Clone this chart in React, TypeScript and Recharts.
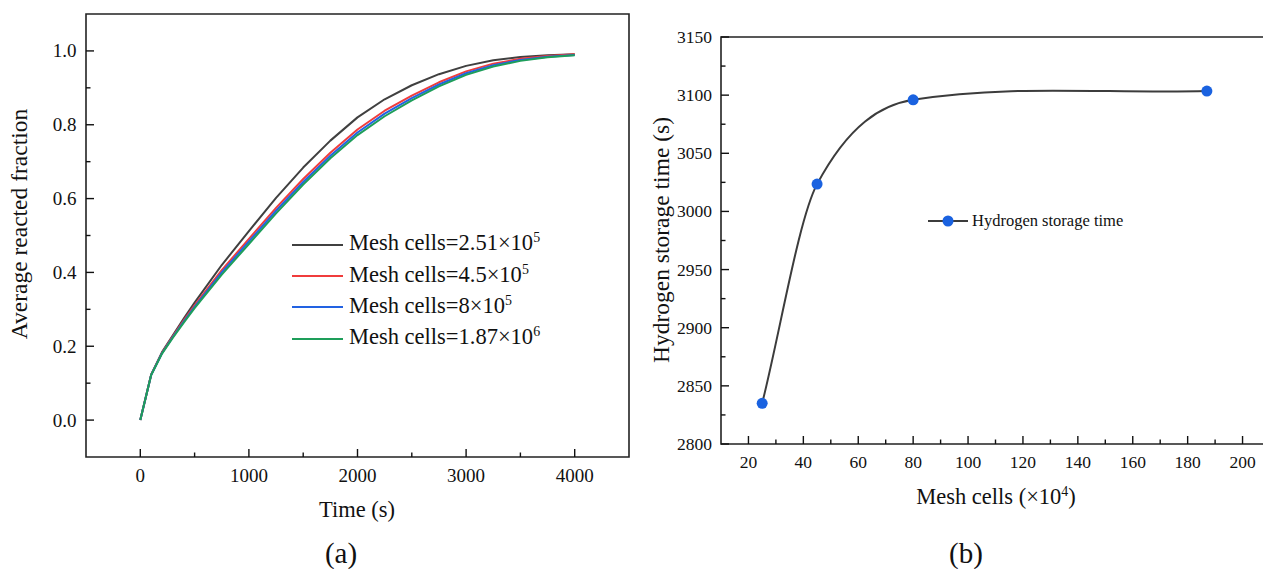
import React from 'react';
import { LineChart, Line, XAxis, YAxis, ReferenceArea, Legend } from 'recharts';

const FONT = "'Liberation Serif', 'Times New Roman', serif";

// ---- Panel (a) data ----
const timeS = [0, 100, 200, 300, 400, 500, 750, 1000, 1250, 1500, 1750, 2000, 2250, 2500, 2750, 3000, 3250, 3500, 3750, 4000];
const frac251 = [0, 0.123, 0.184, 0.23, 0.275, 0.318, 0.42, 0.512, 0.602, 0.684, 0.757, 0.82, 0.869, 0.907, 0.937, 0.9595, 0.9745, 0.9835, 0.9885, 0.991];
const frac45 = [0, 0.123, 0.182, 0.227, 0.27, 0.311, 0.406, 0.491, 0.575, 0.653, 0.724, 0.787, 0.838, 0.879, 0.915, 0.9445, 0.9655, 0.9785, 0.9865, 0.991];
const frac8 = [0, 0.122, 0.181, 0.225, 0.267, 0.307, 0.4, 0.484, 0.567, 0.645, 0.716, 0.779, 0.83, 0.872, 0.909, 0.9395, 0.9615, 0.9755, 0.9845, 0.989];
const frac187 = [0, 0.122, 0.18, 0.223, 0.264, 0.303, 0.394, 0.477, 0.56, 0.638, 0.709, 0.772, 0.823, 0.866, 0.904, 0.935, 0.958, 0.973, 0.983, 0.988];
const meshBase = ['2.51', '4.5', '8', '1.87'];
const meshExp = ['5', '5', '5', '6'];
const seriesKeys = ['m251', 'm45', 'm8', 'm187'];
const seriesColors = ['#404040', '#f03c3c', '#2262e2', '#1e9e5a'];
const leftXTicks = [0, 500, 1000, 1500, 2000, 2500, 3000, 3500, 4000];
const leftYTicks = [0, 0.1, 0.2, 0.3, 0.4, 0.5, 0.6, 0.7, 0.8, 0.9, 1.0];

// ---- Panel (b) data ----
const meshCells = [25, 45, 80, 187];
const storageTime = [2835, 3023.5, 3096, 3103.5];
const rightXTicks = [20, 30, 40, 50, 60, 70, 80, 90, 100, 110, 120, 130, 140, 150, 160, 170, 180, 190, 200];
const rightYTicks = [2800, 2825, 2850, 2875, 2900, 2925, 2950, 2975, 3000, 3025, 3050, 3075, 3100, 3125, 3150];

const leftData = timeS.map((t, i) => ({
  t,
  m251: frac251[i],
  m45: frac45[i],
  m8: frac8[i],
  m187: frac187[i],
}));
const rightData = meshCells.map((c, i) => ({ c, v: storageTime[i] }));

// Smooth spline through the points (geometric-mean tangents inside, secant tangents at ends)
function smoothSpline(context: any) {
  let xs: number[] = [];
  let ys: number[] = [];
  return {
    areaStart() {},
    areaEnd() {},
    lineStart() {
      xs = [];
      ys = [];
    },
    lineEnd() {
      const n = xs.length;
      if (n === 0) return;
      context.moveTo(xs[0], ys[0]);
      if (n === 1) return;
      if (n === 2) {
        context.lineTo(xs[1], ys[1]);
        return;
      }
      const s: number[] = [];
      for (let i = 0; i < n - 1; i++) s.push((ys[i + 1] - ys[i]) / (xs[i + 1] - xs[i]));
      const m: number[] = new Array(n);
      for (let i = 1; i < n - 1; i++) {
        const a = s[i - 1];
        const b = s[i];
        m[i] = a * b > 0 ? Math.sign(a) * Math.sqrt(a * b) : 0;
      }
      m[0] = s[0];
      m[n - 1] = s[n - 2];
      for (let i = 0; i < n - 1; i++) {
        const h = xs[i + 1] - xs[i];
        context.bezierCurveTo(
          xs[i] + h / 3,
          ys[i] + (m[i] * h) / 3,
          xs[i + 1] - h / 3,
          ys[i + 1] - (m[i + 1] * h) / 3,
          xs[i + 1],
          ys[i + 1]
        );
      }
    },
    point(x: number, y: number) {
      xs.push(+x);
      ys.push(+y);
    },
  };
}

function makeXTick(isMajor: (v: number) => boolean, fmt: (v: number) => string, fontSize: number, offset: number) {
  return (props: any) => {
    const { x, y, payload } = props;
    const v = payload.value;
    const major = isMajor(v);
    const len = major ? 8 : 4.5;
    return (
      <g>
        <line x1={x} x2={x} y1={y} y2={y - len} stroke="#111" strokeWidth={1.4} />
        {major && (
          <text x={x} y={y + offset} textAnchor="middle" dominantBaseline="central" fontSize={fontSize} fontFamily={FONT} fill="#111">
            {fmt(v)}
          </text>
        )}
      </g>
    );
  };
}

function makeYTick(isMajor: (v: number) => boolean, fmt: (v: number) => string, fontSize: number, offset: number) {
  return (props: any) => {
    const { x, y, payload } = props;
    const v = payload.value;
    const major = isMajor(v);
    const len = major ? 8 : 4.5;
    return (
      <g>
        <line x1={x} x2={x + len} y1={y} y2={y} stroke="#111" strokeWidth={1.4} />
        {major && (
          <text x={x - offset} y={y} textAnchor="end" dominantBaseline="central" fontSize={fontSize} fontFamily={FONT} fill="#111">
            {fmt(v)}
          </text>
        )}
      </g>
    );
  };
}

const supStyle: React.CSSProperties = { fontSize: '0.62em', verticalAlign: '0.6em' };

const LeftLegend = (props: any) => {
  const payload = [...(props.payload || [])].sort(
    (a: any, b: any) => seriesKeys.indexOf(a.dataKey) - seriesKeys.indexOf(b.dataKey)
  );
  return (
    <div style={{ fontFamily: FONT, fontSize: 22.5, color: '#111' }}>
      {payload.map((p: any) => {
        const i = seriesKeys.indexOf(p.dataKey);
        return (
          <div key={p.dataKey} style={{ display: 'flex', alignItems: 'center', height: 31.3, whiteSpace: 'nowrap' }}>
            <div style={{ width: 51, height: 0, borderTop: `2px solid ${p.color}`, marginRight: 6, marginTop: 2 }} />
            <span>
              Mesh cells={meshBase[i]}×10<span style={supStyle}>{meshExp[i]}</span>
            </span>
          </div>
        );
      })}
    </div>
  );
};

const RightLegend = (props: any) => {
  const payload = props.payload || [];
  return (
    <div style={{ fontFamily: FONT, fontSize: 16.5, color: '#111' }}>
      {payload.map((p: any, i: number) => (
        <div key={i} style={{ display: 'flex', alignItems: 'center', height: 24, whiteSpace: 'nowrap' }}>
          <svg width={42} height={14} style={{ marginRight: 2 }}>
            <line x1={0} x2={40} y1={7} y2={7} stroke="#3c3c3c" strokeWidth={2} />
            <circle cx={20} cy={7} r={5.5} fill="#1a62e0" />
          </svg>
          <span>{p.value}</span>
        </div>
      ))}
    </div>
  );
};

const textBase: React.CSSProperties = {
  position: 'absolute',
  fontFamily: FONT,
  color: '#111',
  whiteSpace: 'nowrap',
  lineHeight: 1,
};

export default function App() {
  return (
    <div style={{ position: 'fixed', left: 0, top: 0, width: 1263, height: 569, overflow: 'hidden', background: '#fff' }}>
      {/* Panel (a) */}
      <div style={{ position: 'absolute', left: 0, top: 0 }}>
        <LineChart width={640} height={569} data={leftData} margin={{ top: 14, right: 11, bottom: 82, left: 26 }}>
          <XAxis
            dataKey="t"
            type="number"
            domain={[-500, 4500]}
            allowDataOverflow
            ticks={leftXTicks}
            interval={0}
            tickSize={0}
            tickMargin={0}
            axisLine={false}
            tickLine={false}
            height={30}
            tick={makeXTick((v) => v % 1000 === 0, (v) => String(v), 19, 18)}
          />
          <YAxis
            type="number"
            domain={[-0.1, 1.1]}
            allowDataOverflow
            ticks={leftYTicks}
            interval={0}
            tickSize={0}
            tickMargin={0}
            axisLine={false}
            tickLine={false}
            width={60}
            tick={makeYTick((v) => Math.round(v * 10) % 2 === 0, (v) => v.toFixed(1), 19, 9.5)}
          />
          <ReferenceArea x1={-500} x2={4500} y1={-0.1} y2={1.1} fill="none" stroke="#222" strokeWidth={1.6} />
          {seriesKeys.map((k, i) => (
            <Line
              key={k}
              dataKey={k}
              name={`Mesh cells=${meshBase[i]}×10^${meshExp[i]}`}
              type="linear"
              stroke={seriesColors[i]}
              strokeWidth={2}
              strokeLinejoin="round"
              dot={false}
              isAnimationActive={false}
            />
          ))}
          <Legend
            layout="vertical"
            align="center"
            verticalAlign="middle"
            wrapperStyle={{ left: 292, top: 228, width: 320, height: 126 }}
            content={(p: any) => <LeftLegend {...p} />}
          />
        </LineChart>
      </div>

      {/* Panel (b) */}
      <div style={{ position: 'absolute', left: 640, top: 0 }}>
        <LineChart width={660} height={569} data={rightData} margin={{ top: 37, right: 30, bottom: 95, left: 21 }}>
          <XAxis
            dataKey="c"
            type="number"
            domain={[10, 210]}
            allowDataOverflow
            ticks={rightXTicks}
            interval={0}
            tickSize={0}
            tickMargin={0}
            axisLine={false}
            tickLine={false}
            height={30}
            tick={makeXTick((v) => v % 20 === 0, (v) => String(v), 17.5, 17.5)}
          />
          <YAxis
            type="number"
            domain={[2800, 3150]}
            allowDataOverflow
            ticks={rightYTicks}
            interval={0}
            tickSize={0}
            tickMargin={0}
            axisLine={false}
            tickLine={false}
            width={60}
            tick={makeYTick((v) => v % 50 === 0, (v) => String(v), 17.5, 9)}
          />
          <ReferenceArea x1={10} x2={210} y1={2800} y2={3150} fill="none" stroke="#222" strokeWidth={1.6} />
          <Line
            dataKey="v"
            name="Hydrogen storage time"
            type={smoothSpline as any}
            stroke="#3c3c3c"
            strokeWidth={2}
            dot={{ r: 5.5, fill: '#1a62e0', stroke: 'none' }}
            isAnimationActive={false}
          />
          <Legend
            layout="vertical"
            align="center"
            verticalAlign="middle"
            wrapperStyle={{ left: 288, top: 209, width: 260, height: 24 }}
            content={(p: any) => <RightLegend {...p} />}
          />
        </LineChart>
      </div>

      {/* Axis titles and panel labels */}
      <div style={{ ...textBase, left: 20.4, top: 224, fontSize: 23.5, transform: 'translate(-50%, -50%) rotate(-90deg)' }}>
        Average reacted fraction
      </div>
      <div style={{ ...textBase, left: 357, top: 510, fontSize: 22.5, transform: 'translate(-50%, -50%)' }}>Time (s)</div>
      <div style={{ ...textBase, left: 341, top: 553, fontSize: 29, transform: 'translate(-50%, -50%)' }}>(a)</div>

      <div style={{ ...textBase, left: 662, top: 240, fontSize: 23.5, transform: 'translate(-50%, -50%) rotate(-90deg)' }}>
        Hydrogen storage time (s)
      </div>
      <div style={{ ...textBase, left: 996, top: 497, fontSize: 22.5, transform: 'translate(-50%, -50%)' }}>
        Mesh cells (×10<span style={supStyle}>4</span>)
      </div>
      <div style={{ ...textBase, left: 966, top: 553, fontSize: 29, transform: 'translate(-50%, -50%)' }}>(b)</div>
    </div>
  );
}
